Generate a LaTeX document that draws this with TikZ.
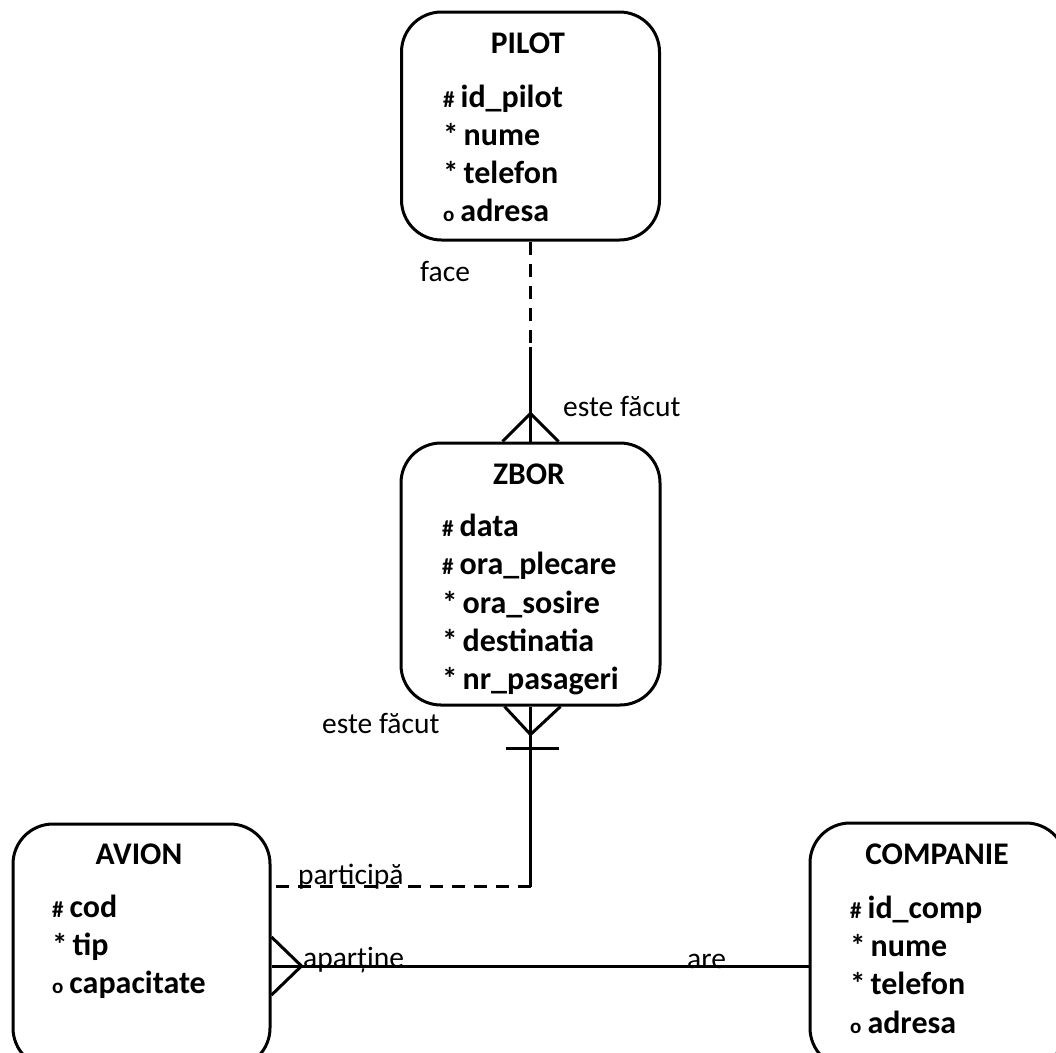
\documentclass[tikz,border=0pt]{standalone}
\usepackage{fontspec}
\setmainfont{Carlito}
\newcommand\mk[1]{{\fontsize{23}{26}\selectfont #1}\hspace{6pt}}
\newcommand\mks{{\fontsize{31}{34}\selectfont *}\hspace{5pt}}
\newcommand\mko{{\fontsize{21}{24}\selectfont o}\hspace{6pt}}
\begin{document}
\begin{tikzpicture}[x=1pt,y=-1pt,
  ent/.style={draw, line width=3pt, rounded corners=40pt, inner sep=0pt},
  rel/.style={line width=3pt},
  dsh/.style={line width=3pt, dash pattern=on 13pt off 9pt},
  ttl/.style={font=\fontsize{31.5}{36}\selectfont\bfseries, anchor=base, inner sep=0pt},
  att/.style={font=\fontsize{32}{36}\selectfont\bfseries, anchor=base west, inner sep=0pt},
  lbl/.style={font=\fontsize{29.5}{34}\selectfont, anchor=base west, inner sep=0pt}]
\useasboundingbox (0,0) rectangle (1056,1052);
\clip (0,0) rectangle (1056,1052);
% entities
\node[ent, minimum width=258pt, minimum height=228pt] (pilot) at (530.5,126) {};
\node[ent, minimum width=259pt, minimum height=262pt] (zbor) at (530.5,574) {};
\node[ent, minimum width=257pt, minimum height=244pt] (avion) at (141.5,946) {};
\node[ent, minimum width=256pt, minimum height=245pt] (companie) at (938,945.5) {};
% PILOT text
\node[ttl] (tp) at (528,53) {PILOT};
\node[att] (p1) at (443,107) {\mk{\#}id\_pilot};
\node[att] (p2) at (443,145) {\mks nume};
\node[att] (p3) at (443,183) {\mks telefon};
\node[att] (p4) at (443,221) {\mko adresa};
% ZBOR text
\node[ttl] (tz) at (529,484) {ZBOR};
\node[att] (z1) at (442,536) {\mk{\#}data};
\node[att] (z2) at (442,574) {\mk{\#}ora\_plecare};
\node[att] (z3) at (442,613) {\mks ora\_sosire};
\node[att] (z4) at (442,651) {\mks destinatia};
\node[att] (z5) at (442,689) {\mks nr\_pasageri};
% AVION text
\node[ttl] (ta) at (139,864) {AVION};
\node[att] (a1) at (52,917) {\mk{\#}cod};
\node[att] (a2) at (52,955) {\mks tip};
\node[att] (a3) at (52,993) {\mko capacitate};
% COMPANIE text
\node[ttl] (tc) at (937,864) {COMPANIE};
\node[att] (c1) at (850,918) {\mk{\#}id\_comp};
\node[att] (c2) at (850,956) {\mks nume};
\node[att] (c3) at (850,994) {\mks telefon};
\node[att] (c4) at (850,1033) {\mko adresa};
% PILOT - ZBOR
\draw[dsh] (pilot.south) -- ++(0,105) coordinate (pz);
\draw[rel] (pz) -- (zbor.north);
\draw[rel] ([xshift=-28pt]zbor.north) -- ([yshift=28pt]zbor.north) -- ([xshift=28pt]zbor.north);
\node[lbl] (lface) at (420,281) {face};
\node[lbl] (lef1) at (563,416) {este făcut};
% ZBOR - AVION
\draw[rel] (zbor.south) -- ++(0,180) coordinate (zc);
\draw[dsh] (zc) -- (zc -| avion.east);
\draw[rel] ([xshift=-26pt]zbor.south) -- ([yshift=-28pt]zbor.south) -- ([xshift=30pt]zbor.south);
\draw[rel] ([xshift=-25pt,yshift=-42pt]zbor.south) -- ([xshift=28pt,yshift=-42pt]zbor.south);
\node[lbl] (lef2) at (322,733) {este făcut};
\node[lbl] (lpart) at (298,884) {participă};
% AVION - COMPANIE
\coordinate (ac) at (0,966);
\draw[rel] (avion.east |- ac) coordinate (af) -- (companie.west |- ac);
\draw[rel] ([yshift=29pt]af) -- ([xshift=30pt]af) -- ([yshift=-29pt]af);
\node[lbl] (lapar) at (303,967) {aparține};
\node[lbl] (lare) at (687,968) {are};
\end{tikzpicture}
\end{document}
